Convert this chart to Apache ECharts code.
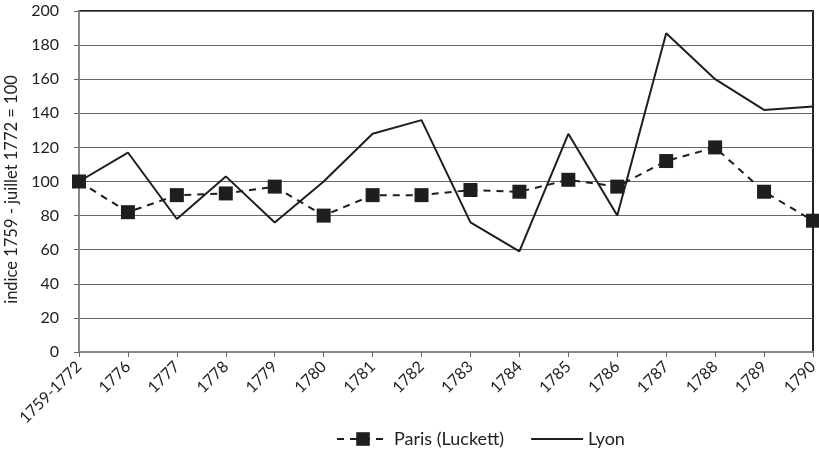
<!DOCTYPE html>
<html><head><meta charset="utf-8">
<script src="https://cdn.jsdelivr.net/npm/echarts@6/dist/echarts.min.js"></script>
<style>html,body{margin:0;padding:0;background:#fff}#c{width:819px;height:455px}</style>
</head><body><div id="c"></div>
<script>
var categories = ['1759-1772','1776','1777','1778','1779','1780','1781','1782','1783','1784','1785','1786','1787','1788','1789','1790'];
var paris = [100, 82, 92, 93, 97, 80, 92, 92, 95, 94, 101, 97, 112, 120, 94, 77];
var lyon = [100, 117, 78, 103, 76, 100, 128, 136, 76, 59, 128, 80, 187, 160, 142, 144];
var yTicks = [0, 20, 40, 60, 80, 100, 120, 140, 160, 180, 200];
var FONT = 'Lato';
var chart = echarts.init(document.getElementById('c'), null, {renderer: 'canvas'});
chart.setOption({
  animation: false,
  backgroundColor: '#fff',
  textStyle: {fontFamily: FONT},
  grid: {left: 79, right: 6, top: 11, bottom: 103, outerBoundsMode: 'none', containLabel: false,
         show: true, borderColor: '#222', borderWidth: 2, backgroundColor: 'transparent'},
  legend: {
    bottom: 2, left: 331, itemWidth: 52, itemHeight: 17, itemGap: 26,
    textStyle: {fontFamily: FONT, fontSize: 18, color: '#222'},
    data: [{name: 'Paris (Luckett)'}, {name: 'Lyon', itemStyle: {opacity: 0}}]
  },
  xAxis: {
    type: 'category', data: categories, boundaryGap: false,
    axisLine: {lineStyle: {color: '#888', width: 2}},
    axisTick: {show: true, length: 5, lineStyle: {color: '#666'}},
    axisLabel: {rotate: 45, fontFamily: FONT, fontSize: 16, color: '#222', margin: 12, interval: 0},
    splitLine: {show: false}
  },
  yAxis: {
    type: 'value', min: yTicks[0], max: yTicks[yTicks.length - 1], interval: 20,
    name: 'indice 1759 - juillet 1772 = 100', nameLocation: 'middle', nameGap: 52,
    nameTextStyle: {fontFamily: FONT, fontSize: 16.5, color: '#222', padding: [0, 16, 0, 0]},
    axisLine: {show: true, lineStyle: {color: '#888', width: 2}},
    axisTick: {show: true, length: 5, lineStyle: {color: '#666'}},
    axisLabel: {fontFamily: FONT, fontSize: 16, color: '#222', margin: 20},
    splitLine: {show: true, lineStyle: {color: '#666', width: 1}}
  },
  series: [
    {name: 'Paris (Luckett)', type: 'line', data: paris, symbol: 'rect', symbolSize: 14,
     itemStyle: {color: '#1e1e1e'}, lineStyle: {color: '#1e1e1e', width: 2, type: [7, 6]}, z: 3},
    {name: 'Lyon', type: 'line', data: lyon, symbol: 'none', showSymbol: false,
     itemStyle: {color: '#1e1e1e'}, lineStyle: {color: '#1e1e1e', width: 2}, z: 2}
  ]
});
</script></body></html>
